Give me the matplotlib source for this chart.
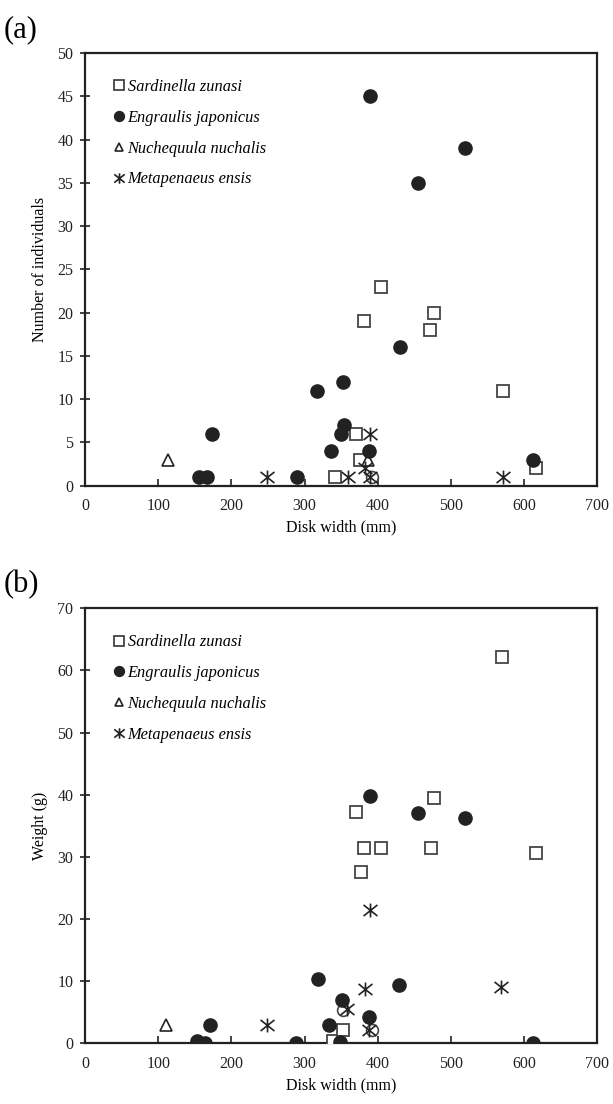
import matplotlib
matplotlib.use('Agg')
import matplotlib.pyplot as plt
from matplotlib.path import Path

plt.rcParams['font.family'] = ['Liberation Serif', 'DejaVu Serif']

# panel (a) - number of individuals
a_sz_x = [342, 371, 376, 381, 404, 471, 477, 572, 617]
a_sz_y = [1, 6, 3, 19, 23, 18, 20, 11, 2]
a_ej_x = [156, 167, 174, 290, 317, 336, 350, 352, 354, 388, 390, 431, 455, 519, 613]
a_ej_y = [1, 1, 6, 1, 11, 4, 6, 12, 7, 4, 45, 16, 35, 39, 3]
a_nn_x = [113, 387]
a_nn_y = [3, 3]
a_me_x = [249, 359, 382, 389, 390, 571]
a_me_y = [1, 1, 2, 1, 6, 1]
a_hid_x = [392]
a_hid_y = [1]

# panel (b) - weight
b_sz_x = [339, 353, 371, 377, 381, 404, 473, 477, 570, 617]
b_sz_y = [0.3, 2.1, 37.2, 27.6, 31.5, 31.5, 31.5, 39.5, 62.1, 30.7]
b_ej_x = [153, 164, 171, 288, 318, 333, 349, 351, 388, 390, 429, 455, 519, 612]
b_ej_y = [0.3, 0, 3.0, 0.1, 10.4, 2.9, 0.2, 6.9, 4.3, 39.8, 9.3, 37.1, 36.3, 0]
b_nn_x = [111]
b_nn_y = [3.0]
b_me_x = [248, 358, 382, 388, 390, 569]
b_me_y = [3.0, 5.5, 8.8, 2.2, 21.5, 9.0]
b_hid_x = [352, 392]
b_hid_y = [5.3, 2.1]

species = ['Sardinella zunasi', 'Engraulis japonicus',
           'Nuchequula nuchalis', 'Metapenaeus ensis']

# excel-like star: an X with a vertical bar
star = Path([(-1, -0.8), (1, 0.8), (-1, 0.8), (1, -0.8), (0, -1), (0, 1)],
            [Path.MOVETO, Path.LINETO, Path.MOVETO, Path.LINETO,
             Path.MOVETO, Path.LINETO])

dark = '#222222'


def panel(ax, sz, ej, nn, me, hid, ymax, ystep, ylabel, tag):
    ax.plot(*hid, ls='none', marker='o', ms=8.5, mfc='none', mec='#444444',
            mew=1.2, zorder=2)
    h_sz, = ax.plot(*sz, ls='none', marker='s', ms=9, mfc='white', mec='#444444',
                    mew=1.3, zorder=3)
    h_nn, = ax.plot(*nn, ls='none', marker='^', ms=8.5, mfc='white', mec=dark,
                    mew=1.2, zorder=3)
    h_ej, = ax.plot(*ej, ls='none', marker='o', ms=9.5, mfc=dark, mec=dark,
                    zorder=4)
    h_me, = ax.plot(*me, ls='none', marker=star, ms=10, mfc='none', mec=dark,
                    mew=1.2, zorder=5)
    ax.set_xlim(0, 700)
    ax.set_ylim(0, ymax)
    ax.set_xticks(range(0, 701, 100))
    ax.set_yticks(range(0, ymax + 1, ystep))
    ax.tick_params(axis='x', direction='in', length=5, width=1.2,
                   labelsize=11.5, colors='#222222', pad=9)
    ax.tick_params(axis='y', direction='inout', length=7, width=1.2,
                   labelsize=11.5, colors='#222222', pad=5)
    for s in ax.spines.values():
        s.set_linewidth(1.6)
        s.set_color('#222222')
    ax.set_xlabel('Disk width (mm)', fontsize=11.5, labelpad=4)
    ax.set_ylabel(ylabel, fontsize=11.5, labelpad=7)
    ax.legend([h_sz, h_ej, h_nn, h_me], species, loc='upper left',
              frameon=False, handlelength=0.6, handletextpad=0.25,
              labelspacing=0.9, borderaxespad=0.4,
              bbox_to_anchor=(0.03, 0.97), markerscale=0.75,
              prop={'style': 'italic', 'size': 11.8})
    ax.text(-0.16, 1.02, tag, transform=ax.transAxes, fontsize=22,
            ha='left', va='bottom')


fig = plt.figure(figsize=(6.13, 11.04), dpi=100)
ax_a = fig.add_axes([0.139, 0.560, 0.835, 0.392])
ax_b = fig.add_axes([0.139, 0.055, 0.835, 0.394])

panel(ax_a, (a_sz_x, a_sz_y), (a_ej_x, a_ej_y), (a_nn_x, a_nn_y),
      (a_me_x, a_me_y), (a_hid_x, a_hid_y), 50, 5, 'Number of individuals', '(a)')
panel(ax_b, (b_sz_x, b_sz_y), (b_ej_x, b_ej_y), (b_nn_x, b_nn_y),
      (b_me_x, b_me_y), (b_hid_x, b_hid_y), 70, 10, 'Weight (g)', '(b)')

fig.savefig('out.png', dpi=100)
